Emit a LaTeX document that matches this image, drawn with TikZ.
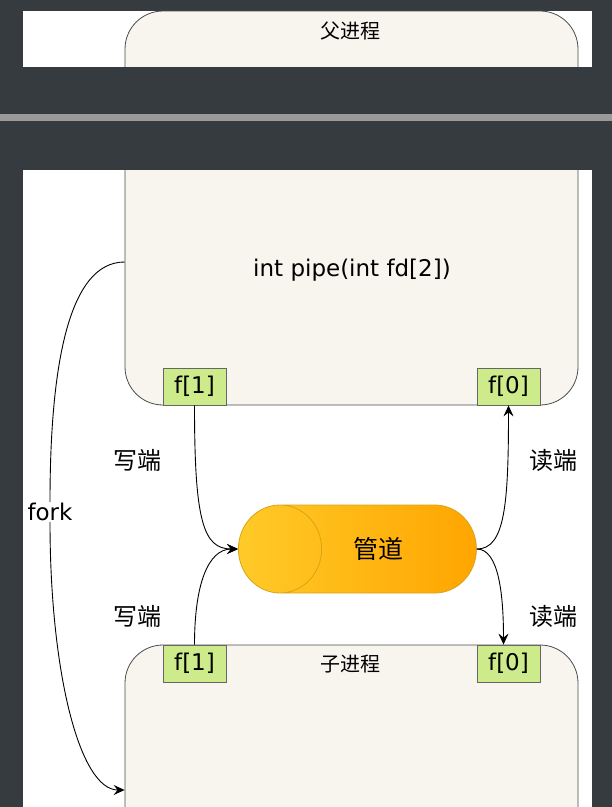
\documentclass[tikz,border=0pt]{standalone}
\usepackage{fontspec}
\setmainfont{DejaVu Sans}
\newfontfamily\cjk{Noto Sans CJK SC}
\usetikzlibrary{arrows.meta,positioning,shapes.geometric}

\definecolor{darkbg}{HTML}{363B40}
\definecolor{bandgray}{HTML}{9A9A9A}
\definecolor{procfill}{HTML}{F8F5EE}
\definecolor{fdfill}{HTML}{CDEB8B}
\definecolor{pipeL}{HTML}{FFCA28}
\definecolor{pipeR}{HTML}{FFA500}
\definecolor{pipeline}{HTML}{D9A415}

\begin{document}
\begin{tikzpicture}[x=1pt,y=1pt,
    procbox/.style={draw=black!70, fill=procfill, rounded corners=38pt, line width=0.8pt, minimum width=453pt},
    proctitle/.style={font=\cjk\fontsize{20}{24}\selectfont},
    fdbox/.style={draw=black!60, fill=fdfill, line width=0.8pt, minimum width=63pt, minimum height=37pt, inner sep=0pt, font=\fontsize{23}{26}\selectfont},
    endlabel/.style={font=\cjk\fontsize{24}{28}\selectfont},
    pipe/.style={cylinder, shape border rotate=180, aspect=3.6, draw=pipeline, line width=0.8pt, left color=pipeL, right color=pipeR, minimum width=88pt, minimum height=238pt, inner sep=0pt, font=\cjk\fontsize{25}{28}\selectfont},
    flow/.style={line width=0.9pt, -{Stealth[length=11pt,width=10pt,inset=4pt]}}]
    \useasboundingbox (0,0) rectangle (612,-807);
    \clip (0,0) rectangle (612,-807);

    % screenshot frame
    \fill[darkbg] (0,0) rectangle (612,-807);
    \fill[white] (23,-11) rectangle (592,-67);
    \fill[white] (23,-170) rectangle (592,-807);

    % parent process
    \node[procbox, minimum height=394pt] (parent) at (351.5,-208) {};
    \node[proctitle] (ptitle) at (350,-31) {父进程};
    \node[font=\fontsize{23}{26}\selectfont] (call) at (352,-270) {int pipe(int fd[2])};

    % cut in the screenshot
    \fill[darkbg] (0,-67) rectangle (612,-170);
    \fill[bandgray] (0,-114) rectangle (612,-121);

    % child process
    \node[procbox, minimum height=355pt] (child) at (351.5,-822.5) {};
    \node[proctitle] (ctitle) at (350,-664) {子进程};

    % file descriptors
    \node[fdbox] (pf1) at (194.5,-386.5) {f[1]};
    \node[fdbox] (pf0) at (508.5,-386.5) {f[0]};
    \node[fdbox] (cf1) at (194.5,-663.5) {f[1]};
    \node[fdbox] (cf0) at (508.5,-663.5) {f[0]};

    % the pipe
    \node[pipe, anchor=west] (pipe) at (238,-549) {管道};

    \node[endlabel] (pw) at (137,-460) {写端};
    \node[endlabel] (pr) at (553,-460) {读端};
    \node[endlabel] (cw) at (137,-616) {写端};
    \node[endlabel] (cr) at (553,-616) {读端};

    \draw[flow] (pf1.south) .. controls +(0,-115) and +(-35,0) .. (pipe.west);
    \draw[flow] (cf1.north) .. controls +(0,60) and +(-30,0) .. (pipe.west);
    \draw[flow] (pipe.east) .. controls +(28,0) and +(0,-100) .. (pf0.south);
    \draw[flow] (pipe.east) .. controls +(22,0) and +(0,50) .. ([xshift=-5pt]cf0.north);

    % fork
    \node[font=\fontsize{23}{26}\selectfont, fill=white, inner sep=1pt] (fork) at (50,-512) {fork};
    \draw[line width=0.9pt] ([yshift=-54pt]parent.west) .. controls +(-55,0) and +(0,140) .. (fork.north);
    \draw[flow] (fork.south) .. controls +(0,-150) and +(-45,0) .. ([yshift=32.5pt]child.west);
\end{tikzpicture}
\end{document}
